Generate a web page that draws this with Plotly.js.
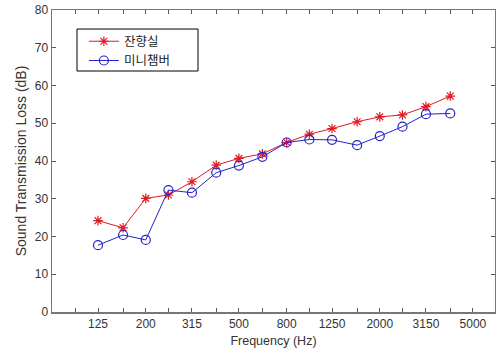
<!DOCTYPE html>
<html>
<head>
<meta charset="utf-8">
<script src="https://cdn.plot.ly/plotly-3.0.1.min.js"></script>
<style>html,body{margin:0;padding:0;background:#fff;}#chart{width:496px;height:349px;}</style>
</head>
<body>
<div id="chart"></div>
<script>
const freqs = [125, 160, 200, 250, 315, 400, 500, 630, 800, 1000, 1250, 1600, 2000, 2500, 3150, 4000];
const reverbRoom = [24.2, 22.3, 30.1, 31.0, 34.5, 38.9, 40.7, 41.9, 44.9, 47.1, 48.6, 50.4, 51.7, 52.2, 54.4, 57.2];
const miniChamber = [17.7, 20.4, 19.1, 32.3, 31.6, 36.9, 38.8, 41.1, 44.9, 45.7, 45.6, 44.2, 46.6, 49.1, 52.4, 52.6];
const seriesNames = ['잔향실', '미니챔버'];
const tickFreqs = [100, 125, 160, 200, 250, 315, 400, 500, 630, 800, 1000, 1250, 1600, 2000, 2500, 3150, 4000, 5000];
const labeledTicks = [125, 200, 315, 500, 800, 1250, 2000, 3150, 5000];
const tickText = tickFreqs.map(f => labeledTicks.includes(f) ? String(f) : '');
const yTicks = [0, 10, 20, 30, 40, 50, 60, 70, 80];

const traces = [
  {x: freqs, y: reverbRoom, name: seriesNames[0], type: 'scatter', mode: 'lines+markers',
   line: {color: 'rgb(225,25,35)', width: 1},
   marker: {symbol: 'asterisk-open', size: 8, color: 'rgb(225,25,35)', line: {color: 'rgb(225,25,35)', width: 1.2}}},
  {x: freqs, y: miniChamber, name: seriesNames[1], type: 'scatter', mode: 'lines+markers',
   line: {color: 'rgb(35,35,200)', width: 1},
   marker: {symbol: 'circle-open', size: 9, color: 'rgb(35,35,200)', line: {color: 'rgb(35,35,200)', width: 1.2}}}
];

const layout = {
  width: 496, height: 349,
  margin: {l: 52, r: 1, t: 10, b: 37},
  paper_bgcolor: '#fff', plot_bgcolor: '#fff',
  font: {family: 'Liberation Sans, Arial, sans-serif', size: 12, color: '#333'},
  showlegend: true,
  legend: {x: 0.072, y: 0.945, xanchor: 'left', yanchor: 'top', bgcolor: 'rgba(0,0,0,0)',
    borderwidth: 0,
    font: {family: 'Noto Sans CJK KR, sans-serif', size: 12.5, color: '#222'},
    tracegroupgap: 0, itemwidth: 30},
  shapes: [{type: 'rect', xref: 'paper', yref: 'paper', x0: 0.0564, x1: 0.3296, y0: 0.798, y1: 0.937,
    line: {color: '#000', width: 1}, fillcolor: '#fff', layer: 'above'}],
  xaxis: {type: 'log', range: [Math.log10(79.5), Math.log10(6213)],
    tickmode: 'array', tickvals: tickFreqs, ticktext: tickText,
    ticks: 'inside', ticklen: 4, tickcolor: '#555', mirror: 'ticks',
    showline: true, linecolor: '#777', linewidth: 1.5, showgrid: false, zeroline: false,
    title: {text: 'Frequency (Hz)', font: {size: 12.5, color: '#333'}, standoff: 6},
    tickfont: {size: 12, color: '#333'}},
  yaxis: {range: [0, 80], tickmode: 'array', tickvals: yTicks,
    ticks: 'inside', ticklen: 4, tickcolor: '#555', mirror: 'ticks',
    showline: true, linecolor: '#777', linewidth: 1.5, showgrid: false, zeroline: false,
    title: {text: 'Sound Transmission Loss (dB)', font: {size: 14, color: '#333'}, standoff: 5},
    tickfont: {size: 12, color: '#333'}}
};

Plotly.newPlot('chart', traces, layout, {staticPlot: true, displayModeBar: false});
</script>
</body>
</html>
